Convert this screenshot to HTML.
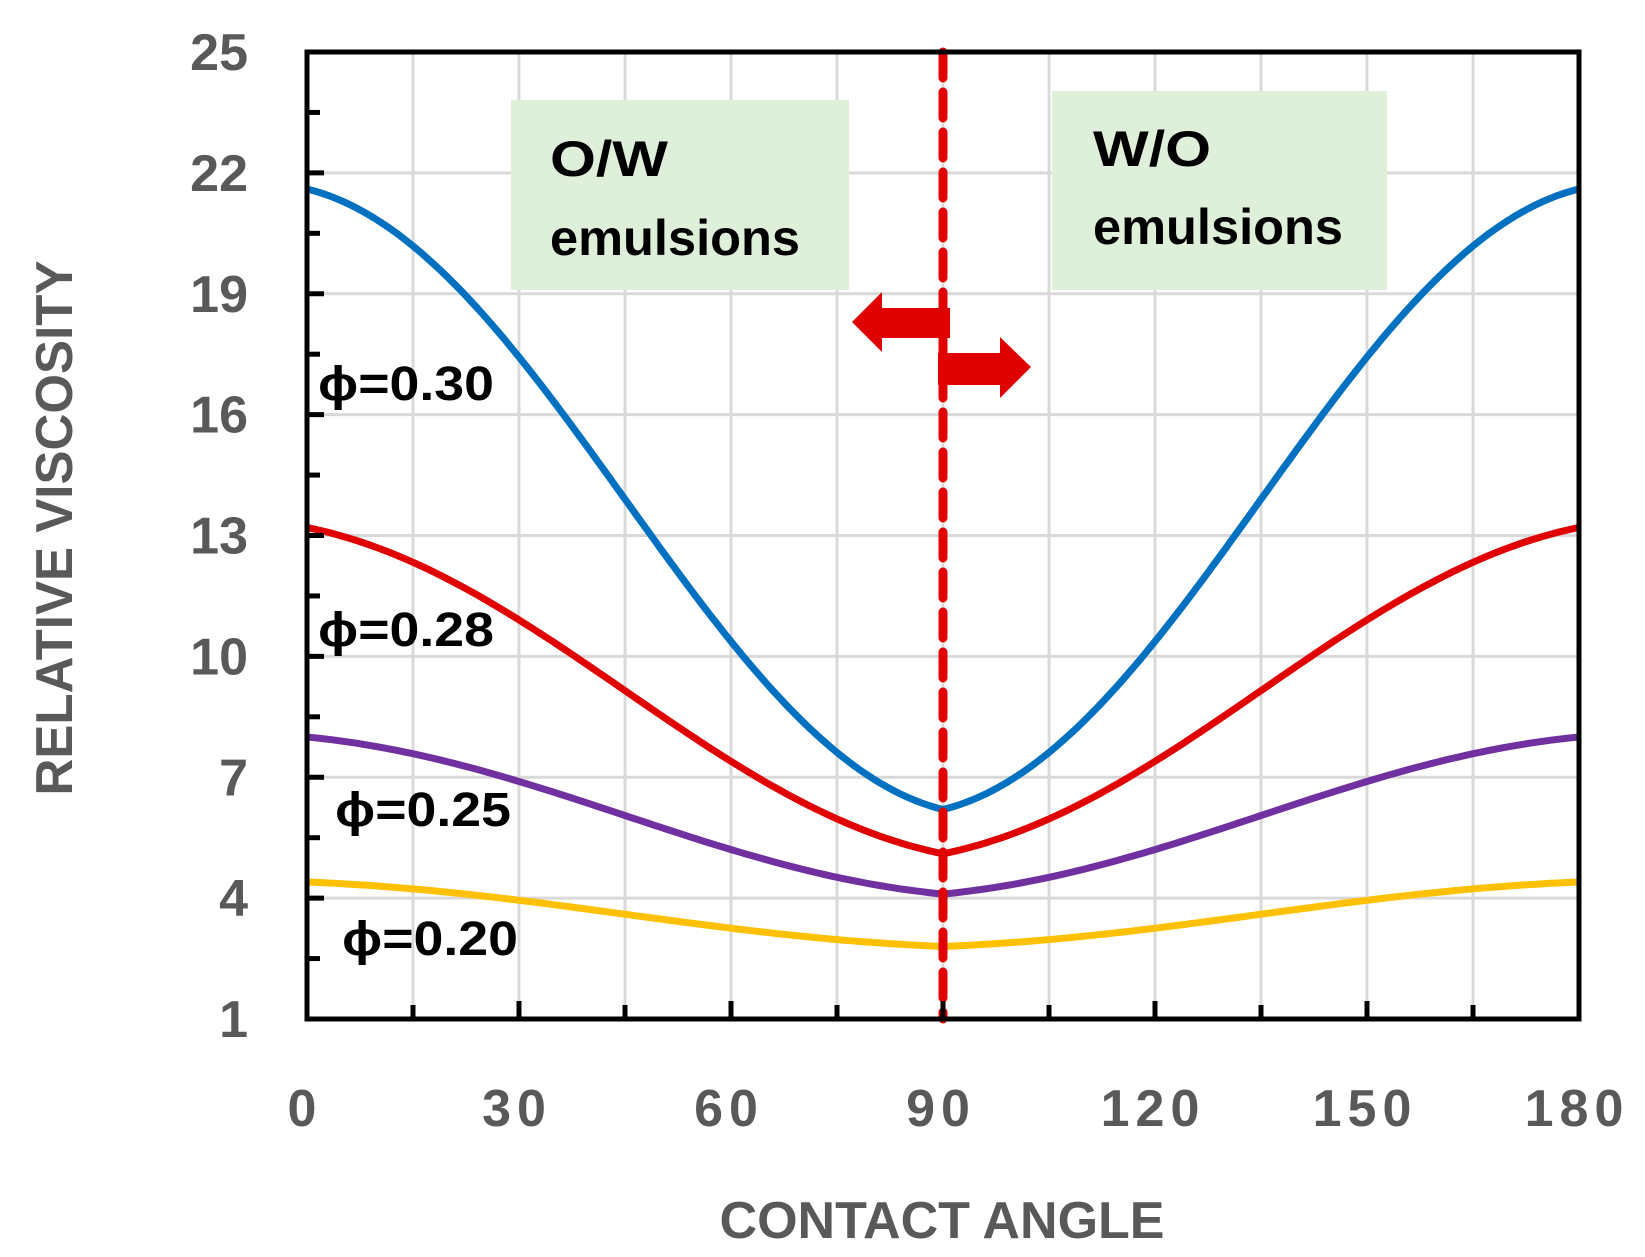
<!DOCTYPE html>
<html><head><meta charset="utf-8"><style>
html,body{margin:0;padding:0;background:#fff;}
svg{display:block;}
text{font-family:"Liberation Sans",sans-serif;font-weight:bold;}
</style></head><body>
<svg id="s" width="1645" height="1257" viewBox="0 0 1645 1257" xmlns="http://www.w3.org/2000/svg">
<g id="grid" stroke="#d9d9d9" stroke-width="3"></g>
<rect x="511" y="100" width="338" height="190" fill="#dff0da"/>
<rect x="1052" y="91" width="335" height="199" fill="#dff0da"/>
<g font-size="50" fill="#000">
<text x="550" y="176" textLength="118" lengthAdjust="spacingAndGlyphs">O/W</text>
<text x="550" y="255" textLength="250" lengthAdjust="spacingAndGlyphs">emulsions</text>
<text x="1093" y="166" textLength="118" lengthAdjust="spacingAndGlyphs">W/O</text>
<text x="1093" y="244" textLength="250" lengthAdjust="spacingAndGlyphs">emulsions</text>
</g>
<g id="curves" fill="none" stroke-width="7" stroke-linejoin="round"></g>
<line x1="943" y1="52" x2="943" y2="1019" stroke="#e00000" stroke-width="9" stroke-dasharray="26 14" stroke-linecap="round"/>
<polygon points="852,322 882,292 882,308 950,308 950,338 882,338 882,352" fill="#e00000"/>
<polygon points="938,353 1000,353 1000,337 1031,367 1000,398 1000,385 938,385" fill="#e00000"/>
<g id="ticks" stroke="#000" stroke-width="5"></g>
<rect x="307" y="52" width="1272" height="967" fill="none" stroke="#000" stroke-width="5"/>
<g font-size="48" fill="#000">
<text x="318" y="400" textLength="176" lengthAdjust="spacingAndGlyphs">ϕ=0.30</text>
<text x="318" y="646" textLength="176" lengthAdjust="spacingAndGlyphs">ϕ=0.28</text>
<text x="335" y="826" textLength="176" lengthAdjust="spacingAndGlyphs">ϕ=0.25</text>
<text x="342" y="955" textLength="176" lengthAdjust="spacingAndGlyphs">ϕ=0.20</text>
</g>
<g id="lab" font-size="52" fill="#595959"></g>
<text x="942" y="1238" font-size="52" fill="#595959" text-anchor="middle" textLength="445" lengthAdjust="spacingAndGlyphs">CONTACT ANGLE</text>
<text transform="translate(72,528) rotate(-90)" font-size="52" fill="#595959" text-anchor="middle" textLength="535" lengthAdjust="spacingAndGlyphs">RELATIVE VISCOSITY</text>
</svg>
<script>
var NS="http://www.w3.org/2000/svg";
function X(a){return 307+a*1272/180;}
function Y(v){return 52+(25-v)*967/24;}
function el(p,t,at,txt){var e=document.createElementNS(NS,t);for(var k in at)e.setAttribute(k,at[k]);if(txt!==undefined)e.textContent=txt;document.getElementById(p).appendChild(e);return e;}
for(var a=15;a<180;a+=15){el("grid","line",{x1:X(a),y1:52,x2:X(a),y2:1019});}
for(var v=4;v<25;v+=3){el("grid","line",{x1:307,y1:Y(v),x2:1579,y2:Y(v)});}
for(var v=2.5;v<25;v+=1.5){var major=Math.abs((v-1)%3)<0.01;el("ticks","line",{x1:307,y1:Y(v),x2:major?324:320,y2:Y(v)});}
for(var a=15;a<180;a+=15){var major=a%30==0;el("ticks","line",{x1:X(a),y1:1019,x2:X(a),y2:major?1001:1005});}
[1,4,7,10,13,16,19,22,25].forEach(function(v){el("lab","text",{x:248,y:Y(v)+18,"text-anchor":"end"},v);});
[0,30,60,90,120,150,180].forEach(function(a){el("lab","text",{x:X(a)-2,y:1126,"text-anchor":"middle","letter-spacing":"6"},a);});
var S=[["#0070c0",21.6,6.2,0.75],["#e00000",13.2,5.1,0.6],["#7030a0",8.0,4.1,0.6],["#ffc000",4.4,2.8,0.6]];
S.forEach(function(s){var d="";for(var a=0;a<=180;a+=1){var t=a<=90?a/90:(180-a)/90;var w=s[3];var f=w*0.5*(1+Math.cos(Math.PI*t))+(1-w)*(1-t);var v=s[2]+(s[1]-s[2])*f;d+=(a?"L":"M")+X(a).toFixed(1)+","+Y(v).toFixed(1);}el("curves","path",{d:d,stroke:s[0]});});
</script>
</body></html>
